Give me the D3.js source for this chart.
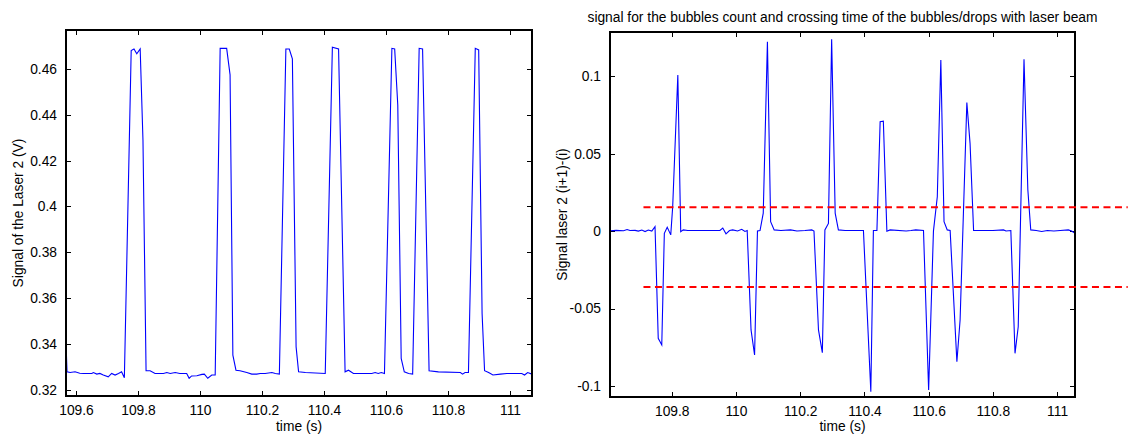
<!DOCTYPE html>
<html lang="en">
<head>
  <meta charset="UTF-8">
  <title>Laser 2 signal and bubble crossing</title>
  <script src="https://d3js.org/d3.v7.min.js"></script>
  <style>
    body {
      margin: 0;
      background: #ffffff;
      font-family: "Liberation Sans", Arial, sans-serif;
    }
    svg {
      background-color: #ffffff;
    }
    .axis path {
      display: none;
    }
    .axis line {
      stroke: #000;
      shape-rendering: crispEdges;
    }
    .axis text {
      font-size: 13.8px;
      fill: #000;
      font-family: "Liberation Sans", Arial, sans-serif;
    }
    .frame {
      fill: none;
      stroke: #000;
      stroke-width: 1.2;
      shape-rendering: crispEdges;
    }
    .trace {
      fill: none;
      stroke: #0000ff;
      stroke-width: 1.1;
    }
    .threshold {
      fill: none;
      stroke: #ff0000;
      stroke-width: 2;
      stroke-dasharray: 7,4.5;
    }
    .label {
      font-size: 13.8px;
      fill: #000;
    }
  </style>
</head>
<body>
<script>
  // left panel: raw laser signal
  const leftTime = [
    109.568, 109.571, 109.581, 109.597, 109.612, 109.624, 109.640, 109.651, 109.656, 109.667,
    109.677, 109.688, 109.704, 109.715, 109.726, 109.737, 109.747, 109.756, 109.778, 109.787,
    109.796, 109.807, 109.816, 109.826, 109.839, 109.855, 109.870, 109.882, 109.893, 109.904,
    109.920, 109.935, 109.957, 109.965, 109.973, 109.990, 110.006, 110.014, 110.025, 110.038,
    110.049, 110.065, 110.086, 110.097, 110.106, 110.116, 110.129, 110.151, 110.167, 110.183,
    110.194, 110.210, 110.232, 110.243, 110.256, 110.277, 110.288, 110.298, 110.310, 110.318,
    110.340, 110.404, 110.427, 110.447, 110.468, 110.479, 110.495, 110.554, 110.565, 110.575,
    110.585, 110.595, 110.619, 110.628, 110.638, 110.649, 110.659, 110.673, 110.686, 110.707,
    110.718, 110.739, 110.769, 110.840, 110.847, 110.855, 110.866, 110.888, 110.899, 110.910,
    110.918, 110.931, 110.945, 110.969, 110.990, 111.038, 111.047, 111.057, 111.071
  ];
  const leftSignal = [
    0.3395, 0.3278, 0.3275, 0.3278, 0.3272, 0.3271, 0.3271, 0.3271, 0.3275, 0.3268,
    0.3271, 0.3264, 0.3256, 0.3271, 0.3264, 0.3271, 0.3278, 0.3252, 0.4680, 0.4687,
    0.4666, 0.4687, 0.4290, 0.3283, 0.3283, 0.3271, 0.3271, 0.3271, 0.3275, 0.3271,
    0.3275, 0.3271, 0.3271, 0.3250, 0.3260, 0.3261, 0.3267, 0.3268, 0.3250, 0.3264,
    0.3264, 0.4690, 0.4690, 0.4574, 0.3351, 0.3285, 0.3283, 0.3275, 0.3268, 0.3268,
    0.3271, 0.3271, 0.3275, 0.3271, 0.3268, 0.4687, 0.4687, 0.4644, 0.3387, 0.3278,
    0.3275, 0.3271, 0.4695, 0.4687, 0.3278, 0.3285, 0.3271, 0.3271, 0.3275, 0.3271,
    0.3275, 0.3271, 0.4690, 0.4687, 0.4443, 0.3337, 0.3278, 0.3271, 0.3268, 0.4690,
    0.4687, 0.3283, 0.3278, 0.3275, 0.3268, 0.3275, 0.3275, 0.4690, 0.4683, 0.3533,
    0.3283, 0.3275, 0.3264, 0.3268, 0.3271, 0.3271, 0.3264, 0.3275, 0.3268
  ];

  // right panel: difference signal (i+1)-(i)
  const rightTime = [
    109.608, 109.627, 109.650, 109.661, 109.670, 109.686, 109.696, 109.707, 109.717, 109.727,
    109.738, 109.748, 109.758, 109.769, 109.777, 109.786, 109.797, 109.803, 109.819, 109.828,
    109.836, 109.850, 109.880, 109.950, 109.959, 109.969, 109.980, 109.990, 110.005, 110.018,
    110.028, 110.035, 110.047, 110.058, 110.067, 110.075, 110.085, 110.098, 110.108, 110.119,
    110.140, 110.170, 110.190, 110.215, 110.236, 110.243, 110.257, 110.269, 110.277, 110.288,
    110.298, 110.309, 110.319, 110.340, 110.397, 110.420, 110.428, 110.439, 110.449, 110.459,
    110.470, 110.480, 110.530, 110.545, 110.560, 110.584, 110.600, 110.615, 110.627, 110.638,
    110.648, 110.658, 110.667, 110.688, 110.698, 110.719, 110.729, 110.740, 110.800, 110.833,
    110.841, 110.856, 110.869, 110.879, 110.897, 110.909, 110.918, 110.935, 110.952, 110.970,
    110.990, 111.010, 111.035, 111.045, 111.056
  ];
  const rightDiff = [
    0.0003, 0.0005, 0.0003, 0.0010, 0.0004, 0.0005, 0.0000, 0.0007, -0.0003, 0.0007,
    0.0000, 0.0029, -0.0692, -0.0735, -0.0014, 0.0025, -0.0024, 0.0158, 0.1008, -0.0004,
    0.0008, 0.0004, 0.0004, 0.0004, 0.0020, -0.0017, 0.0004, 0.0008, 0.0001, 0.0012,
    -0.0002, 0.0004, -0.0638, -0.0800, 0.0001, 0.0004, 0.0116, 0.1223, 0.0061, 0.0008,
    0.0004, 0.0008, 0.0001, 0.0004, 0.0008, 0.0001, -0.0638, -0.0785, 0.0008, 0.0050,
    0.1239, 0.0116, 0.0008, 0.0004, 0.0004, -0.1037, 0.0004, 0.0004, 0.0707, 0.0710,
    0.0000, 0.0008, 0.0001, 0.0004, 0.0008, 0.0004, -0.1026, 0.0000, 0.0222, 0.1105,
    0.0061, 0.0008, 0.0004, -0.0843, -0.0574, 0.0830, 0.0567, 0.0004, 0.0004, 0.0008,
    0.0001, 0.0004, -0.0789, -0.0617, 0.1110, 0.0266, 0.0008, 0.0004, -0.0002, 0.0004,
    0.0001, 0.0004, 0.0008, 0.0001, -0.0014
  ];

  // detection thresholds (red dashed) and the time span they are drawn over
  const thresholds = [0.0155, -0.036];
  const thresholdSpan = [109.712, 111.22];

  const leftXTicks = [109.6, 109.8, 110, 110.2, 110.4, 110.6, 110.8, 111];
  const leftYTicks = [0.32, 0.34, 0.36, 0.38, 0.4, 0.42, 0.44, 0.46];
  const rightXTicks = [109.8, 110, 110.2, 110.4, 110.6, 110.8, 111];
  const rightYTicks = [-0.1, -0.05, 0, 0.05, 0.1];

  const width = 1129;
  const height = 437;
  const fmt = d => String(+d.toFixed(4));

  const svg = d3.select("body").append("svg")
    .attr("width", width)
    .attr("height", height);

  function drawPanel(cfg) {
    const x = d3.scaleLinear().domain(cfg.xDomain).range([cfg.left, cfg.right]);
    const y = d3.scaleLinear().domain(cfg.yDomain).range([cfg.bottom, cfg.top]);
    const g = svg.append("g");

    g.append("clipPath")
      .attr("id", cfg.id + "-clip")
      .append("rect")
      .attr("x", cfg.left)
      .attr("y", cfg.top)
      .attr("width", cfg.right - cfg.left)
      .attr("height", cfg.bottom - cfg.top);

    // inward ticks on all four sides
    g.append("g").attr("class", "axis")
      .attr("transform", `translate(0,${cfg.bottom})`)
      .call(d3.axisBottom(x).tickValues(cfg.xTicks).tickFormat(fmt).tickSizeInner(-5).tickSizeOuter(0).tickPadding(9));
    g.append("g").attr("class", "axis")
      .attr("transform", `translate(0,${cfg.top})`)
      .call(d3.axisTop(x).tickValues(cfg.xTicks).tickFormat("").tickSizeInner(-5).tickSizeOuter(0));
    g.append("g").attr("class", "axis")
      .attr("transform", `translate(${cfg.left},0)`)
      .call(d3.axisLeft(y).tickValues(cfg.yTicks).tickFormat(fmt).tickSizeInner(-5).tickSizeOuter(0).tickPadding(9));
    g.append("g").attr("class", "axis")
      .attr("transform", `translate(${cfg.right},0)`)
      .call(d3.axisRight(y).tickValues(cfg.yTicks).tickFormat("").tickSizeInner(-5).tickSizeOuter(0));

    const line = d3.line()
      .x(d => x(d[0]))
      .y(d => y(d[1]));

    g.append("path")
      .datum(d3.zip(cfg.time, cfg.values))
      .attr("class", "trace")
      .attr("clip-path", `url(#${cfg.id}-clip)`)
      .attr("d", line);

    g.append("rect")
      .attr("class", "frame")
      .attr("x", cfg.left)
      .attr("y", cfg.top)
      .attr("width", cfg.right - cfg.left)
      .attr("height", cfg.bottom - cfg.top);

    g.append("text")
      .attr("class", "label")
      .attr("x", (cfg.left + cfg.right) / 2)
      .attr("y", 431)
      .attr("text-anchor", "middle")
      .text("time (s)");

    g.append("text")
      .attr("class", "label")
      .attr("transform", `translate(${cfg.left - 43},${(cfg.top + cfg.bottom) / 2}) rotate(-90)`)
      .attr("text-anchor", "middle")
      .text(cfg.yLabel);

    return { x, y, g };
  }

  drawPanel({
    id: "left",
    left: 66, right: 532, top: 30, bottom: 396,
    xDomain: [109.5677, 111.071],
    yDomain: [0.31725, 0.477],
    xTicks: leftXTicks,
    yTicks: leftYTicks,
    time: leftTime,
    values: leftSignal,
    yLabel: "Signal of the Laser 2 (V)"
  });

  const right = drawPanel({
    id: "right",
    left: 610, right: 1075, top: 32, bottom: 397,
    xDomain: [109.6078, 111.0558],
    yDomain: [-0.1071, 0.1286],
    xTicks: rightXTicks,
    yTicks: rightYTicks,
    time: rightTime,
    values: rightDiff,
    yLabel: "Signal laser 2 (i+1)-(i)"
  });

  // threshold lines are not clipped, they run past the right frame
  right.g.selectAll(".threshold")
    .data(thresholds)
    .join("line")
    .attr("class", "threshold")
    .attr("x1", right.x(thresholdSpan[0]))
    .attr("x2", right.x(thresholdSpan[1]))
    .attr("y1", d => right.y(d))
    .attr("y2", d => right.y(d));

  svg.append("text")
    .attr("class", "label")
    .attr("x", (610 + 1075) / 2)
    .attr("y", 21.5)
    .attr("text-anchor", "middle")
    .text("signal for the bubbles count and crossing time of the bubbles/drops with laser beam");
</script>
</body>
</html>
